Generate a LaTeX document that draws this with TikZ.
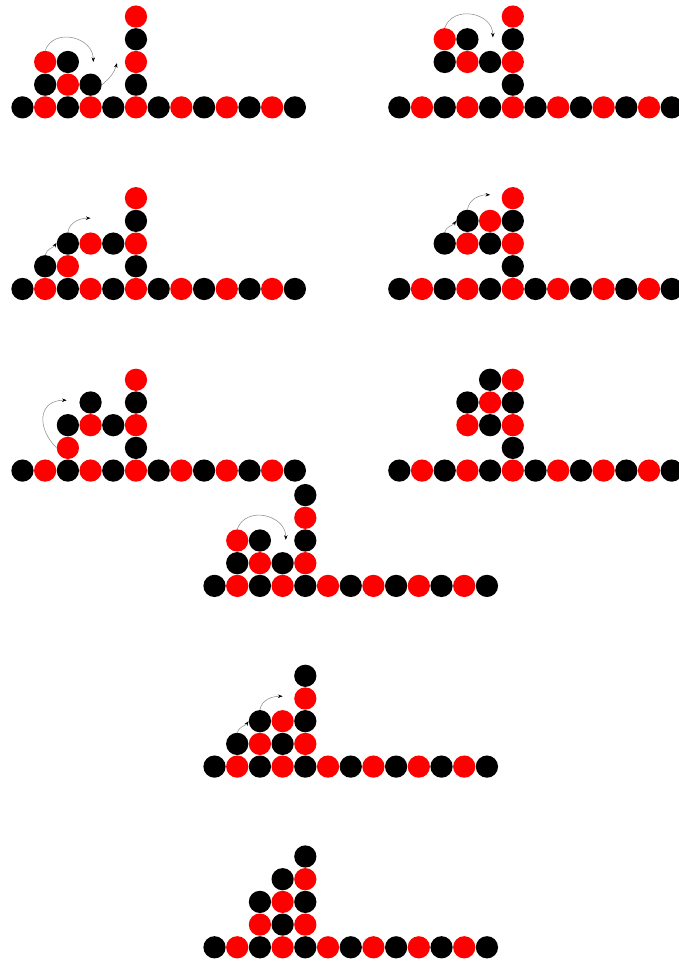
\documentclass[tikz,border=0pt]{standalone}
\usetikzlibrary{arrows.meta}

% one row of 13 beads along the floor, black first
\newcommand{\floorrow}[1]{%
  \foreach \i in {0,2,...,12} \node[bk] (#1-\i-0) at (\i,0) {};
  \foreach \i in {1,3,...,11} \node[rd] (#1-\i-0) at (\i,0) {};
}

\begin{document}
\begin{tikzpicture}[x=0.6cm, y=0.6cm,
    bk/.style={circle, fill=black, inner sep=0pt, minimum size=5.88mm},
    rd/.style={circle, fill=red, inner sep=0pt, minimum size=5.88mm},
    hop/.style={draw=black!45, line width=0.4pt, -{Stealth[length=3.5pt, width=2.6pt, black]}}]
  \useasboundingbox (-0.99,-37.78) rectangle (28.88,4.73);

  % first row
  \begin{scope}
    \floorrow{a}
    \foreach \x/\y/\c in {1/1/bk,2/1/rd,3/1/bk,1/2/rd,2/2/bk,5/1/bk,5/2/rd,5/3/bk,5/4/rd}
      \node[\c] (a-\x-\y) at (\x,\y) {};
    \coordinate (a-t1) at (3.12,2.0);
    \coordinate (a-t2) at (4.16,1.95);
    \draw[hop] (a-1-2.north) to[out=70, in=90, looseness=1.3] (a-t1);
    \draw[hop] (a-3-1.east) to[out=40, in=-105] (a-t2);
  \end{scope}
  \begin{scope}[shift={(16.6,0)}]
    \floorrow{b}
    \foreach \x/\y/\c in {2/2/bk,3/2/rd,4/2/bk,2/3/rd,3/3/bk,5/1/bk,5/2/rd,5/3/bk,5/4/rd}
      \node[\c] (b-\x-\y) at (\x,\y) {};
    \coordinate (b-t1) at (4.12,3.08);
    \draw[hop] (b-2-3.north) to[out=70, in=90, looseness=1.3] (b-t1);
  \end{scope}

  % second row
  \begin{scope}[shift={(0,-8)}]
    \floorrow{c}
    \foreach \x/\y/\c in {1/1/bk,2/1/rd,2/2/bk,3/2/rd,4/2/bk,5/1/bk,5/2/rd,5/3/bk,5/4/rd}
      \node[\c] (c-\x-\y) at (\x,\y) {};
    \coordinate (c-t1) at (1.5,2.03);
    \coordinate (c-t2) at (3.0,3.12);
    \draw[hop] (c-1-1.north) to[out=75, in=-125] (c-t1);
    \draw[hop] (c-2-2.north) to[out=80, in=180] (c-t2);
  \end{scope}
  \begin{scope}[shift={(16.6,-8)}]
    \floorrow{d}
    \foreach \x/\y/\c in {2/2/bk,3/2/rd,4/2/bk,3/3/bk,4/3/rd,5/1/bk,5/2/rd,5/3/bk,5/4/rd}
      \node[\c] (d-\x-\y) at (\x,\y) {};
    \coordinate (d-t1) at (2.5,3.0);
    \coordinate (d-t2) at (4.0,4.15);
    \draw[hop] (d-2-2.north) to[out=75, in=-125] (d-t1);
    \draw[hop] (d-3-3.north) to[out=80, in=180] (d-t2);
  \end{scope}

  % third row
  \begin{scope}[shift={(0,-16)}]
    \floorrow{e}
    \foreach \x/\y/\c in {2/1/rd,2/2/bk,3/2/rd,4/2/bk,3/3/bk,5/1/bk,5/2/rd,5/3/bk,5/4/rd}
      \node[\c] (e-\x-\y) at (\x,\y) {};
    \coordinate (e-t1) at (1.95,3.1);
    \draw[hop] (e-2-1.west) to[out=135, in=180, looseness=1.5] (e-t1);
  \end{scope}
  \begin{scope}[shift={(16.6,-16)}]
    \floorrow{f}
    \foreach \x/\y/\c in {3/2/rd,4/2/bk,3/3/bk,4/3/rd,4/4/bk,5/1/bk,5/2/rd,5/3/bk,5/4/rd}
      \node[\c] (f-\x-\y) at (\x,\y) {};
  \end{scope}

  % centre column
  \begin{scope}[shift={(8.46,-21.08)}]
    \floorrow{g}
    \foreach \x/\y/\c in {1/1/bk,2/1/rd,3/1/bk,1/2/rd,2/2/bk,4/1/rd,4/2/bk,4/3/rd,4/4/bk}
      \node[\c] (g-\x-\y) at (\x,\y) {};
    \coordinate (g-t1) at (3.14,2.03);
    \draw[hop] (g-1-2.north) to[out=70, in=90, looseness=1.3] (g-t1);
  \end{scope}
  \begin{scope}[shift={(8.46,-29.04)}]
    \floorrow{h}
    \foreach \x/\y/\c in {1/1/bk,2/1/rd,3/1/bk,2/2/bk,3/2/rd,4/1/rd,4/2/bk,4/3/rd,4/4/bk}
      \node[\c] (h-\x-\y) at (\x,\y) {};
    \coordinate (h-t1) at (1.5,2.0);
    \coordinate (h-t2) at (3.0,3.1);
    \draw[hop] (h-1-1.north) to[out=75, in=-125] (h-t1);
    \draw[hop] (h-2-2.north) to[out=80, in=180] (h-t2);
  \end{scope}
  \begin{scope}[shift={(8.46,-37.0)}]
    \floorrow{i}
    \foreach \x/\y/\c in {2/1/rd,3/1/bk,2/2/bk,3/2/rd,3/3/bk,4/1/rd,4/2/bk,4/3/rd,4/4/bk}
      \node[\c] (i-\x-\y) at (\x,\y) {};
  \end{scope}
\end{tikzpicture}
\end{document}
